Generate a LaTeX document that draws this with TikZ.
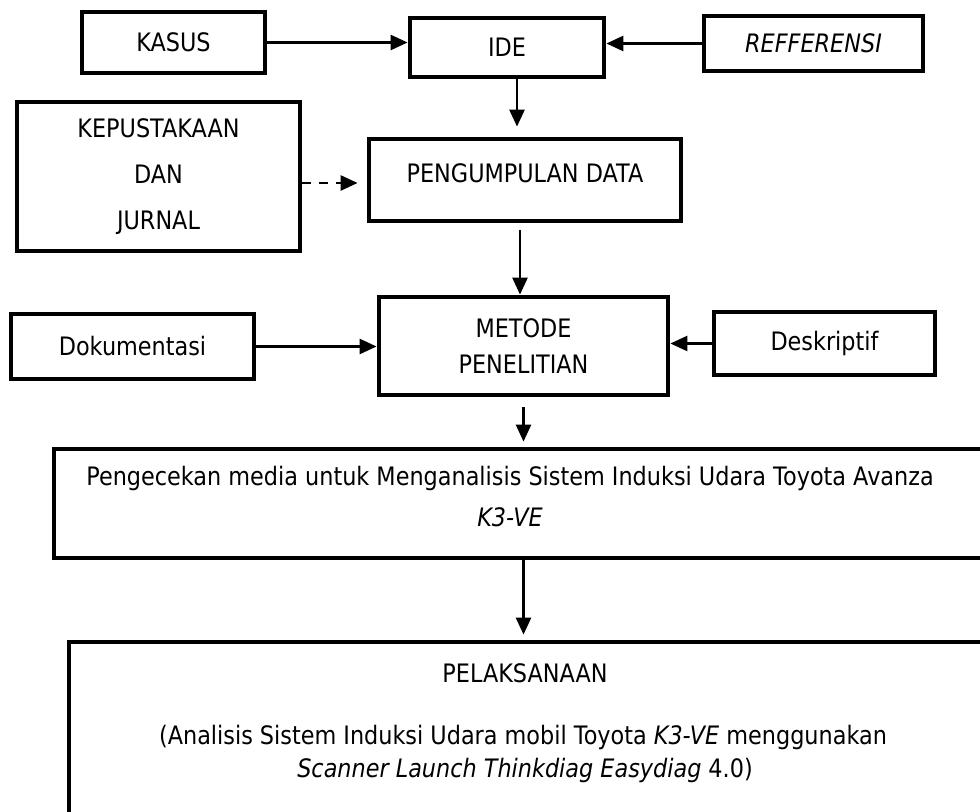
\documentclass[tikz,border=0pt]{standalone}
\usepackage{fontspec}
\setmainfont{DejaVu Sans}[FakeStretch=0.88]
\usetikzlibrary{arrows.meta}
\begin{document}
\begin{tikzpicture}[x=0.5pt,y=-0.5pt,
  box/.style={draw,line width=2.4pt,inner sep=0pt,align=center,font=\fontsize{12.7}{23}\selectfont},
  txt/.style={inner sep=0pt,font=\fontsize{12.7}{16}\selectfont},
  arr/.style={line width=1.3pt,-{Triangle[length=8.5pt,width=7.5pt]}},
  darr/.style={arr,dash pattern=on 4.5pt off 4pt}]
\useasboundingbox (0,0) rectangle (980,812);
\clip (0,0) rectangle (980,812);
% boxes
\node[box,minimum width=91.5pt,minimum height=30.5pt] (kasus) at (173.5,42.5) {KASUS};
\node[box,minimum width=97pt,minimum height=29.5pt] (ide) at (507,47.5) {IDE};
\node[box,minimum width=109.5pt,minimum height=27.5pt] (reff) at (813.5,43.5) {\itshape REFFERENSI};
\node[box,minimum width=156pt,minimum height=41pt] (peng) at (525,180) {PENGUMPULAN DATA\\[-16pt]};
\node[box,minimum width=141.5pt,minimum height=74.5pt] (kep) at (158.5,176.5) {KEPUSTAKAAN\\DAN\\JURNAL};
\node[box,minimum width=121.5pt,minimum height=32.5pt] (dok) at (132.5,346.5) {Dokumentasi};
\node[box,minimum width=144.5pt,minimum height=49pt,font=\fontsize{12.7}{18}\selectfont] (met) at (523.5,346) {METODE\\PENELITIAN};
\node[box,minimum width=110.5pt,minimum height=31.5pt] (desk) at (824.5,343.5) {Deskriptif};
\node[box,minimum width=478pt,minimum height=54.5pt] (pcek) at (532,503.5) {};
\node[box,minimum width=470.5pt,minimum height=99pt] (pel) at (539.5,741) {};
% texts in the large boxes
\node[txt] (t1) at (510,478) {Pengecekan media untuk Menganalisis Sistem Induksi Udara Toyota Avanza};
\node[txt] (t2) at (510,517) {\itshape K3-VE};
\node[txt] (t3) at (525,673) {PELAKSANAAN};
\node[txt] (t4) at (523,737) {(Analisis Sistem Induksi Udara mobil Toyota \textit{K3-VE} menggunakan};
\node[txt] (t5) at (525,770) {\textit{Scanner Launch Thinkdiag Easydiag} 4.0)};
% connectors
\draw[arr] (kasus.east) -- (kasus.east -| ide.west);
\draw[arr] (reff.west) -- (reff.west -| ide.east);
\draw[arr,shorten >=5pt] ([xshift=5pt]ide.south) -- ([xshift=5pt]ide.south |- peng.north);
\draw[arr,shorten <=3.5pt] ([xshift=-2.5pt]peng.south) -- ([xshift=-2.5pt]peng.south |- met.north);
\draw[darr,shorten >=4.5pt] ([yshift=-3.25pt]kep.east) -- ([yshift=-3.25pt]kep.east -| peng.west);
\draw[arr] (dok.east) -- (dok.east -| met.west);
\draw[arr] (desk.west) -- (desk.west -| met.east);
\draw[arr,shorten <=5pt,shorten >=2.5pt] (met.south) -- (met.south |- pcek.north);
\draw[arr,shorten >=2.5pt] (met.south |- pcek.south) -- (met.south |- pel.north);
\end{tikzpicture}
\end{document}
